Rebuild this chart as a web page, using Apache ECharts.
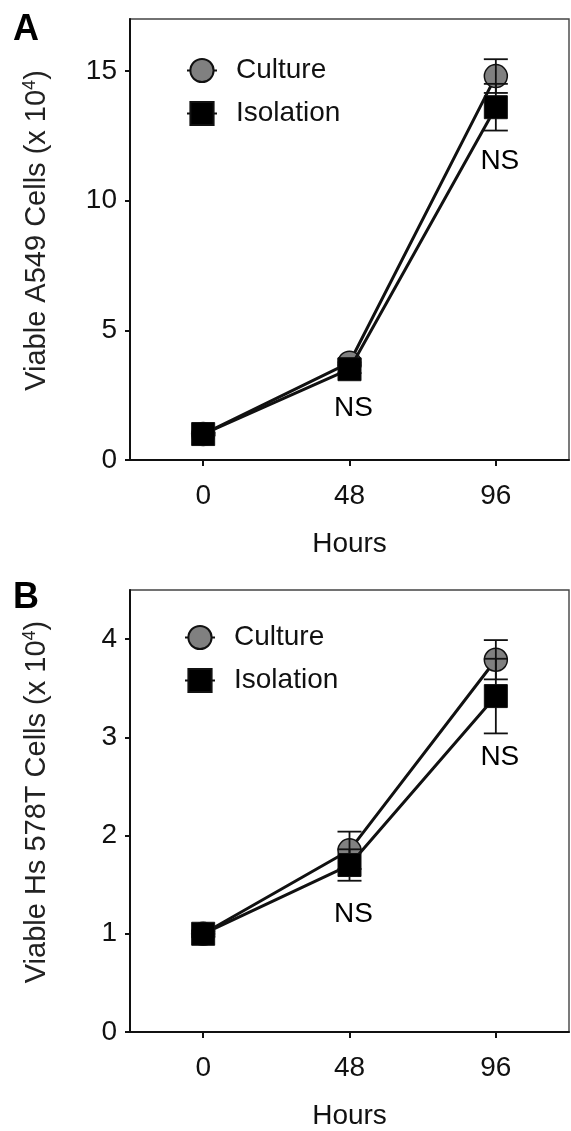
<!DOCTYPE html>
<html>
<head>
<meta charset="utf-8">
<script src="https://cdn.jsdelivr.net/npm/echarts@6/dist/echarts.min.js"></script>
<style>
html, body { margin: 0; padding: 0; background: #fff; }
#chart { width: 571px; height: 1131px; }
</style>
</head>
<body>
<div id="chart"></div>
<script>
const hours = [0, 48, 96];
const hourTicks = [0, 48, 96];

// panel A: A549 cells (x 10^4)
const a549Culture = [1.0, 3.75, 14.8];
const a549CultureErr = [0.05, 0.15, 0.65];
const a549Isolation = [1.0, 3.5, 13.6];
const a549IsolationErr = [0.05, 0.15, 0.9];
const a549Ticks = [0, 5, 10, 15];
const a549NS = [[48, 2.0], [96, 11.5]];

// panel B: Hs 578T cells (x 10^4)
const hsCulture = [1.0, 1.85, 3.79];
const hsCultureErr = [0.03, 0.19, 0.2];
const hsIsolation = [1.0, 1.7, 3.42];
const hsIsolationErr = [0.03, 0.16, 0.38];
const hsTicks = [0, 1, 2, 3, 4];
const hsNS = [[48, 1.2], [96, 2.8]];

const FONT = "'Liberation Sans', Arial, Helvetica, sans-serif";
const INK = '#111';
const FS = 28;

function pairs(ys) {
  return hours.map((h, i) => [h, ys[i]]);
}
function bars(ys, errs) {
  return hours.map((h, i) => [h, ys[i] - errs[i], ys[i] + errs[i]]);
}

function errorBar(params, api) {
  const x = api.value(0);
  const top = api.coord([x, api.value(2)]);
  const bot = api.coord([x, api.value(1)]);
  const w = 12;
  const style = { stroke: INK, lineWidth: 1.8 };
  return {
    type: 'group',
    children: [
      { type: 'line', shape: { x1: top[0], y1: top[1], x2: bot[0], y2: bot[1] }, style },
      { type: 'line', shape: { x1: top[0] - w, y1: top[1], x2: top[0] + w, y2: top[1] }, style },
      { type: 'line', shape: { x1: bot[0] - w, y1: bot[1], x2: bot[0] + w, y2: bot[1] }, style }
    ]
  };
}

function panelSeries(idx, culture, cultureErr, isolation, isolationErr, ns) {
  return [
    {
      name: 'Culture', type: 'line', xAxisIndex: idx, yAxisIndex: idx, z: 2,
      data: pairs(culture), symbol: 'circle', symbolSize: 23,
      lineStyle: { color: INK, width: 3 },
      itemStyle: { color: '#808080', borderColor: INK, borderWidth: 1.5 }
    },
    {
      type: 'custom', xAxisIndex: idx, yAxisIndex: idx, z: 3,
      data: bars(culture, cultureErr), renderItem: errorBar, encode: { x: 0, y: [1, 2] }
    },
    {
      type: 'custom', xAxisIndex: idx, yAxisIndex: idx, z: 3,
      data: bars(isolation, isolationErr), renderItem: errorBar, encode: { x: 0, y: [1, 2] }
    },
    {
      name: 'Isolation', type: 'line', xAxisIndex: idx, yAxisIndex: idx, z: 4,
      data: pairs(isolation), symbol: 'rect', symbolSize: 23,
      lineStyle: { color: INK, width: 3 },
      itemStyle: { color: '#000', borderColor: INK, borderWidth: 1 }
    },
    {
      type: 'scatter', xAxisIndex: idx, yAxisIndex: idx, z: 5,
      data: ns, symbolSize: 1, silent: true,
      itemStyle: { opacity: 0 },
      label: { show: true, formatter: 'NS', position: 'inside', offset: [4, 0],
        fontSize: FS, color: '#000', opacity: 1, fontFamily: FONT }
    }
  ];
}

function xAxis(idx) {
  return {
    gridIndex: idx, type: 'value', min: -24, max: 120,
    name: 'Hours', nameLocation: 'middle', nameGap: 70,
    nameTextStyle: { fontSize: FS, color: INK, fontFamily: FONT },
    axisLine: { onZero: false, lineStyle: { color: INK, width: 2 } },
    axisTick: { show: true, length: 6, customValues: hourTicks, lineStyle: { color: INK, width: 2 } },
    axisLabel: { customValues: hourTicks, margin: 22, fontSize: FS, color: INK, fontFamily: FONT },
    splitLine: { show: false }
  };
}

function yAxis(idx, max, ticks, cellName) {
  return {
    gridIndex: idx, type: 'value', min: 0, max: max,
    name: 'Viable ' + cellName + ' Cells (x 10{sup|4})',
    nameLocation: 'middle', nameGap: 77,
    nameTextStyle: {
      fontSize: 29, color: '#222', fontFamily: FONT, lineHeight: 32, padding: [0, 0, 0, 18],
      rich: { sup: { fontSize: 18, verticalAlign: 'top', color: '#222', fontFamily: FONT, lineHeight: 32 } }
    },
    axisLine: { onZero: false, lineStyle: { color: INK, width: 2 } },
    axisTick: { show: true, length: 5, customValues: ticks, lineStyle: { color: INK, width: 2 } },
    axisLabel: { customValues: ticks, margin: 13, fontSize: FS, color: INK, fontFamily: FONT },
    splitLine: { show: false }
  };
}

function legend(top, left) {
  return {
    data: ['Culture', 'Isolation'], orient: 'vertical', top: top, left: left,
    itemWidth: 30, itemHeight: 29, itemGap: 14, selectedMode: false,
    textStyle: { fontSize: FS, color: INK, fontFamily: FONT, lineHeight: 29, padding: [0, 0, 0, 14] }
  };
}

const chart = echarts.init(document.getElementById('chart'));
chart.setOption({
  backgroundColor: '#fff',
  animation: false,
  textStyle: { fontFamily: FONT },
  title: [
    { text: 'A', left: 8, top: 7, textStyle: { fontSize: 36, fontWeight: 'bold', color: '#000', fontFamily: FONT } },
    { text: 'B', left: 8, top: 575, textStyle: { fontSize: 36, fontWeight: 'bold', color: '#000', fontFamily: FONT } }
  ],
  legend: [legend(51, 181), legend(618, 179)],
  grid: [
    { left: 130, top: 19, width: 439, height: 441, show: true, borderColor: '#444', borderWidth: 1.4 },
    { left: 130, top: 590, width: 439, height: 442, show: true, borderColor: '#444', borderWidth: 1.4 }
  ],
  xAxis: [xAxis(0), xAxis(1)],
  yAxis: [yAxis(0, 17, a549Ticks, 'A549'), yAxis(1, 4.5, hsTicks, 'Hs 578T')],
  series: [
    ...panelSeries(0, a549Culture, a549CultureErr, a549Isolation, a549IsolationErr, a549NS),
    ...panelSeries(1, hsCulture, hsCultureErr, hsIsolation, hsIsolationErr, hsNS)
  ]
});
window.addEventListener('resize', () => chart.resize());
</script>
</body>
</html>
